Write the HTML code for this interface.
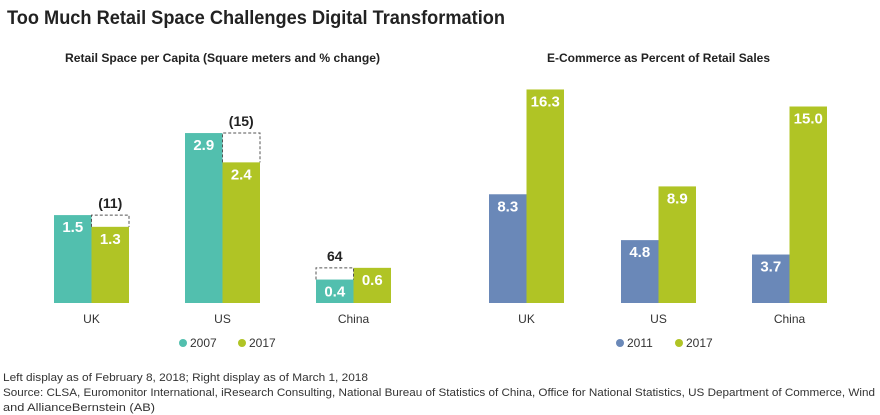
<!DOCTYPE html>
<html><head><meta charset="utf-8"><style>
body{margin:0;background:#fff;}
svg{display:block;font-family:"Liberation Sans",sans-serif;}
</style></head><body>
<svg id="c" width="880" height="415" viewBox="0 0 880 415">
<text x="7" y="24" font-size="19" font-weight="bold" fill="#222" textLength="498" lengthAdjust="spacingAndGlyphs">Too Much Retail Space Challenges Digital Transformation</text>
<text x="65" y="62" font-size="12" font-weight="bold" fill="#222" textLength="315" lengthAdjust="spacingAndGlyphs">Retail Space per Capita (Square meters and % change)</text>
<text x="547" y="62" font-size="12" font-weight="bold" fill="#222" textLength="223" lengthAdjust="spacingAndGlyphs">E-Commerce as Percent of Retail Sales</text>
<g id="left"></g>
<g id="right"></g>
<g font-size="11" fill="#333">
<text x="3" y="381" textLength="365" lengthAdjust="spacingAndGlyphs">Left display as of February 8, 2018; Right display as of March 1, 2018</text>
<text x="3" y="396" textLength="872" lengthAdjust="spacingAndGlyphs">Source: CLSA, Euromonitor International, iResearch Consulting, National Bureau of Statistics of China, Office for National Statistics, US Department of Commerce, Wind</text>
<text x="3" y="411" textLength="152" lengthAdjust="spacingAndGlyphs">and AllianceBernstein (AB)</text>
</g>
</svg>
<script>
const categories = ["UK","US","China"];
const space2007 = [1.5, 2.9, 0.4];
const space2017 = [1.3, 2.4, 0.6];
const spaceChange = ["(11)","(15)","64"];
const ecom2011 = [8.3, 4.8, 3.7];
const ecom2017 = [16.3, 8.9, 15.0];
const leftLegend = ["2007","2017"];
const rightLegend = ["2011","2017"];

const NS="http://www.w3.org/2000/svg";
function mk(parent,tag,attrs,txt){const e=document.createElementNS(NS,tag);for(const k in attrs)e.setAttribute(k,attrs[k]);if(txt!==undefined)e.textContent=txt;parent.appendChild(e);return e;}
const base=303, bw=37.5;
const TEAL="#52bfae", GREEN="#b0c425", BLUE="#6a88b8";
const yL=v=>base-v*58.6;
const yR=v=>base-v*13.1;
const leftX=[54,185,316], rightX=[489,621,752];

function drawBars(g,xs,a,b,ys,ca,names,fmt){
  categories.forEach((c,i)=>{
    const x0=xs[i];
    [[a[i],ca,0,names[0]],[b[i],GREEN,bw,names[1]]].forEach(([v,col,off,nm])=>{
      const y=ys(v);
      const r=mk(g,"rect",{x:x0+off,y:y,width:bw,height:base-y,fill:col});
      
      
      const t=mk(g,"text",{x:x0+off+bw/2,y:y+17,"text-anchor":"middle","font-size":"15","font-weight":"bold",fill:"#fff"},fmt(v));
      
      
    });
    const l=mk(g,"text",{x:x0+bw,y:323,"text-anchor":"middle","font-size":"12",fill:"#333"},c);
    
    
  });
}
function legend(g,x,cols,labels){
  const offs=[0,59];
  labels.forEach((lab,i)=>{
    const d=mk(g,"circle",{cx:x+offs[i],cy:343,r:4,fill:cols[i]});
    
    
    const t=mk(g,"text",{x:x+offs[i]+7,y:347,"font-size":"12",fill:"#333"},lab);
    
    
  });
}
const L=document.getElementById('left'), R=document.getElementById('right');
drawBars(L,leftX,space2007,space2017,yL,TEAL,["bar-2007","bar-2017"],v=>v.toFixed(1));
categories.forEach((c,i)=>{
  const x0=leftX[i]; const a=space2007[i], b=space2017[i];
  let bx, y1, y2;
  if(b<a){bx=x0+bw;y1=yL(a);y2=yL(b);}else{bx=x0;y1=yL(b);y2=yL(a);}
  const p=mk(L,"path",{d:`M${bx},${y2} V${y1} H${bx+bw} V${y2}`,fill:"none",stroke:"#555","stroke-dasharray":"3,2","stroke-width":"1"});
  
  
  const t=mk(L,"text",{x:bx+bw/2,y:y1-7,"text-anchor":"middle","font-size":"14","font-weight":"bold",fill:"#222"},spaceChange[i]);
  
  
});
drawBars(R,rightX,ecom2011,ecom2017,yR,BLUE,["bar-2011","bar-2017"],v=>v.toFixed(1));
legend(L,183,[TEAL,GREEN],leftLegend);
legend(R,620,[BLUE,GREEN],rightLegend);
</script>
</body></html>
